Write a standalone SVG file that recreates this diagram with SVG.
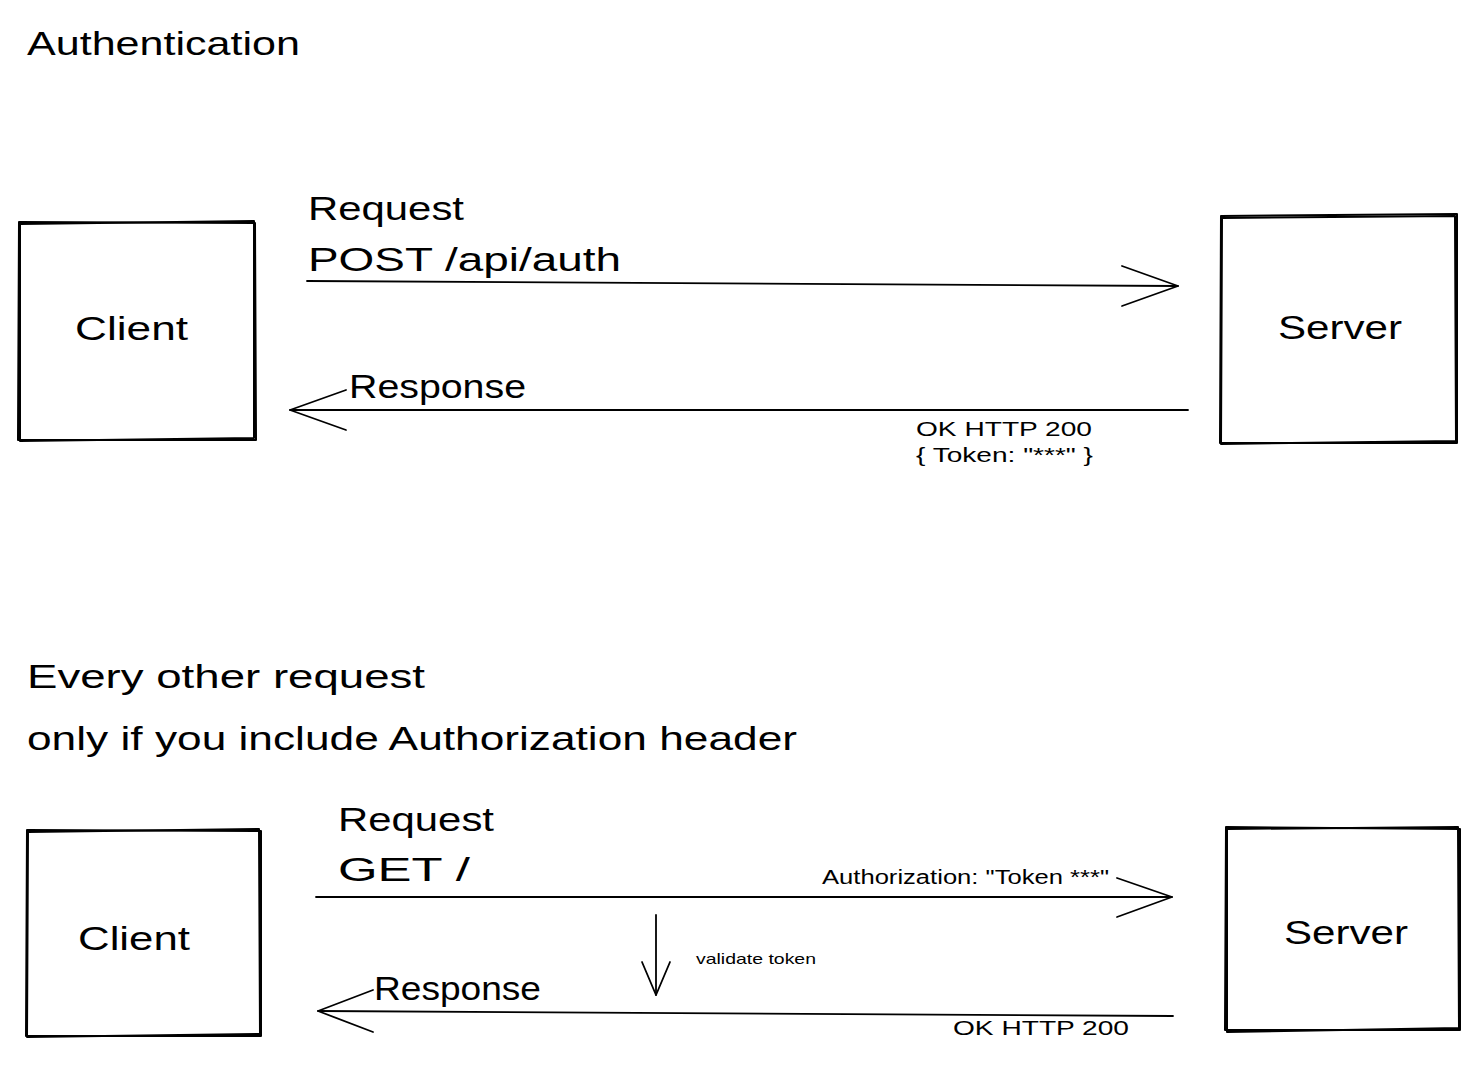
<svg xmlns="http://www.w3.org/2000/svg" width="1483" height="1065" viewBox="0 0 1483 1065">
<style>
text{font-family:"Liberation Sans","DejaVu Sans",sans-serif;fill:#000}
.big{font-size:34px}
.mid{font-size:20px}
.sm{font-size:15px}
.box{fill:none;stroke:#000;stroke-width:2;stroke-linecap:round;stroke-linejoin:round}
.ln{fill:none;stroke:#000;stroke-width:1.8;stroke-linecap:round;stroke-linejoin:round}
</style>
<rect width="1483" height="1065" fill="#fff"/>
<text class="big" x="27" y="55" textLength="273" lengthAdjust="spacingAndGlyphs">Authentication</text>

<g id="client1">
<path class="box" d="M19 222 L255 223 L256 440 L18 440 Z"/>
<path class="box" d="M20 224 L254 221 L254 438 L20 441 Z" stroke-width="1"/>
<text class="big" x="75" y="340" textLength="113" lengthAdjust="spacingAndGlyphs">Client</text>
</g>
<g id="server1">
<path class="box" d="M1221 216 L1457 214 L1457 443 L1220 443 Z"/>
<path class="box" d="M1222 218 L1455 216 L1456 441 L1221 444 Z" stroke-width="1"/>
<text class="big" x="1278" y="339" textLength="124" lengthAdjust="spacingAndGlyphs">Server</text>
</g>
<g id="client2">
<path class="box" d="M27 830 L261 831 L261 1036 L26 1036 Z"/>
<path class="box" d="M28 832 L259 829 L260 1034 L27 1037 Z" stroke-width="1"/>
<text class="big" x="78" y="950" textLength="112" lengthAdjust="spacingAndGlyphs">Client</text>
</g>
<g id="server2">
<path class="box" d="M1226 827 L1460 829 L1460 1030 L1225 1030 Z"/>
<path class="box" d="M1227 829 L1458 827 L1459 1028 L1227 1032 Z" stroke-width="1"/>
<text class="big" x="1284" y="944" textLength="124" lengthAdjust="spacingAndGlyphs">Server</text>
</g>

<g id="connectors">
<path class="ln" d="M307 281 L1178 286"/>
<path class="ln" d="M1122 266 L1178 286 L1122 306"/>
<path class="ln" d="M1188 410 L290 410"/>
<path class="ln" d="M346 390 L290 410 L346 430"/>
<path class="ln" d="M316 897 L1172 897"/>
<path class="ln" d="M1117 878 L1172 897 L1117 917"/>
<path class="ln" d="M656 915 L656 995"/>
<path class="ln" d="M642 962 L656 995 L670 962"/>
<path class="ln" d="M1173 1016 L318 1011"/>
<path class="ln" d="M373 990 L318 1011 L373 1032"/>
</g>

<g id="labels">
<text class="big" x="308" y="220" textLength="156" lengthAdjust="spacingAndGlyphs">Request</text>
<text class="big" x="308" y="271" textLength="313" lengthAdjust="spacingAndGlyphs">POST /api/auth</text>
<text class="big" x="349" y="398" textLength="177" lengthAdjust="spacingAndGlyphs">Response</text>
<text class="mid" x="916" y="436" textLength="176" lengthAdjust="spacingAndGlyphs">OK HTTP 200</text>
<text class="mid" x="916" y="462" textLength="177" lengthAdjust="spacingAndGlyphs">{ Token: "***" }</text>
<text class="big" x="27" y="688" textLength="398" lengthAdjust="spacingAndGlyphs">Every other request</text>
<text class="big" x="27" y="750" textLength="770" lengthAdjust="spacingAndGlyphs">only if you include Authorization header</text>
<text class="big" x="338" y="831" textLength="156" lengthAdjust="spacingAndGlyphs">Request</text>
<text class="big" x="338" y="881" textLength="132" lengthAdjust="spacingAndGlyphs">GET /</text>
<text class="mid" x="822" y="884" textLength="287" lengthAdjust="spacingAndGlyphs">Authorization: "Token ***"</text>
<text class="sm" x="696" y="964" textLength="120" lengthAdjust="spacingAndGlyphs">validate token</text>
<text class="big" x="374" y="1000" textLength="167" lengthAdjust="spacingAndGlyphs">Response</text>
<text class="mid" x="953" y="1035" textLength="176" lengthAdjust="spacingAndGlyphs">OK HTTP 200</text>
</g>
</svg>
